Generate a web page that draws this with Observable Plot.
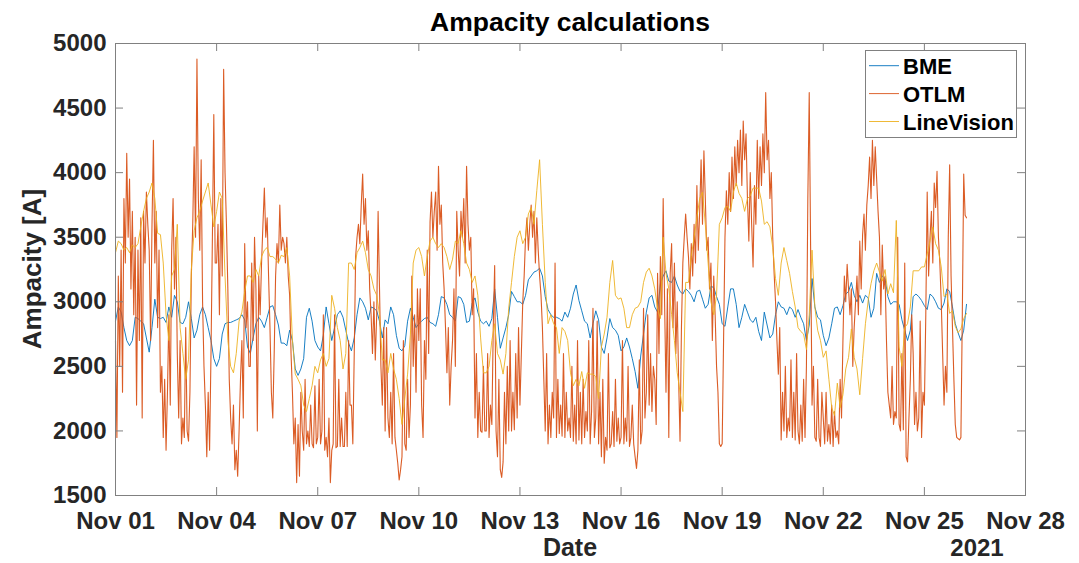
<!DOCTYPE html>
<html><head><meta charset="utf-8">
<script src="https://cdn.jsdelivr.net/npm/d3@7"></script>
<script src="https://cdn.jsdelivr.net/npm/@observablehq/plot@0.6"></script>
<style>
html,body{margin:0;padding:0;background:#fff;}
</style></head><body>
<div id="chart"></div>
<script>
// ---- data ----
const startDate = "2021-11-01T00:00:00Z";
const seriesNames = ["BME", "OTLM", "LineVision"];
const seriesColors = ["#0072BD", "#D95319", "#EDB120"];
const xTickDates = ["2021-11-01","2021-11-04","2021-11-07","2021-11-10","2021-11-13","2021-11-16","2021-11-19","2021-11-22","2021-11-25","2021-11-28"];
const yTicks = [1500, 2000, 2500, 3000, 3500, 4000, 4500, 5000];
const titleText = "Ampacity calculations";
const xLabel = "Date";
const yLabel = "Ampacity [A]";
const yearLabel = "2021";

// BME: one value every 2 hours from Nov 01 00:00
const bmeValues = [
2850,2960,2920,2800,2700,2660,2700,2880,2870,2850,2830,2720,
2610,2800,3020,2880,2870,2880,2840,2960,2880,3050,3000,2840,
2830,2880,3000,2870,2720,2780,2900,2960,2900,2800,2700,2560,
2500,2560,2750,2830,2840,2840,2850,2860,2870,2900,2860,2650,
2600,2720,2830,2880,2850,2800,2880,2960,2970,2900,2820,2680,
2680,2660,2780,2700,2480,2430,2480,2560,2880,2950,2850,2700,
2650,2620,2740,2960,2830,2700,2800,2900,2930,2880,2780,2680,
2620,2720,2900,3030,3000,2950,2860,2960,2950,2930,2850,2720,
2860,2830,2960,2900,2740,2640,2620,2660,2850,2950,2880,2800,
2830,2850,2870,2880,2840,2830,2810,2900,3040,3030,2980,2900,
2880,2850,3040,3030,2980,2840,2850,2990,3030,2920,2850,2830,
2850,2810,2870,3100,2880,2640,2720,2800,2900,3080,3040,3000,
3000,2980,3050,3170,3200,3230,3240,3260,3200,3040,2940,2900,
2880,2880,2870,2850,2920,2880,2950,3060,3130,3010,2930,2850,
2830,2720,2830,2930,2860,2650,2600,2720,2870,2800,2780,2740,
2620,2650,2720,2650,2560,2460,2330,2580,2750,2920,3030,3050,
2960,2920,3140,3200,3240,3160,3150,3200,3130,3080,3060,3100,
3080,3050,3000,3080,3090,3020,2950,2980,3120,3110,3040,2980,
2830,2810,2960,3100,3100,2980,2800,2880,2980,2920,2860,2840,
2880,2770,2700,2920,2820,2720,2750,2900,3000,2960,2950,2900,
2960,2940,2880,2940,2880,2830,2700,2820,3180,2960,2880,2860,
2740,2660,2720,2830,2950,2960,2900,2970,3060,3080,3150,3050,
3000,3050,2990,3050,3030,2880,2950,3220,3150,3200,3180,3040,
2980,3000,3000,2980,2860,2780,2700,2780,3040,3060,3040,3010,
2970,2940,3060,3040,3000,2950,2940,2990,3100,3080,2960,2830,
2760,2700,2780,2980
];

// LineVision: one value every 2 hours from Nov 01 00:00
const lineVisionValues = [
3380,3470,3450,3400,3420,3380,3440,3420,3450,3580,3700,3800,
3850,3920,3800,3530,3520,3300,2900,2700,3200,3250,3600,2800,
2600,2400,2550,3250,3550,3650,3700,3780,3850,3920,3750,3580,
3700,3850,3800,3200,2700,2500,2450,2600,2850,2920,3080,3200,
3200,3150,3250,3200,3350,3400,3420,3350,3350,3330,3300,3360,
3350,3420,3200,2700,2440,2400,2350,2200,2150,2250,2350,2500,
2450,2550,2600,2500,2560,3050,2950,2800,2700,2480,2600,3300,
3300,3250,3380,3420,3470,3380,3250,3200,3100,3050,2900,2550,
2550,2450,2600,2480,2400,2250,2050,2250,2440,2750,3300,3400,
3420,3350,3200,3350,3470,3500,3450,3420,3450,3420,3350,3250,
3330,3470,3450,3550,3450,3300,3250,3150,3200,3050,2720,2450,
2450,2500,2700,2830,2600,2550,2440,2600,2950,3150,3350,3500,
3550,3450,3500,3680,3730,3600,3860,4100,3600,3150,2830,2900,
2830,2800,2600,2800,2770,2700,2450,2350,2400,2350,2460,2330,
2450,2440,2440,2420,2250,2650,2750,2880,3150,3320,3050,3020,
3030,2950,2800,2800,2900,2950,2960,3000,3150,3230,3260,3200,
3100,2950,2870,3500,3220,3100,2900,2700,2450,2300,2150,3150,
3150,3350,3500,3650,3800,3850,3600,3300,3000,2900,3050,3600,
3650,3730,3740,3700,3850,3920,3840,3800,3700,3800,3820,3880,
3880,3880,3780,3600,3620,3580,3420,3180,3050,3300,3420,3320,
3220,3080,2960,2800,2770,2750,2630,2900,3400,2960,2780,2700,
2570,2620,2400,2180,2120,2370,2180,2280,2480,2570,2790,2570,
2480,2280,2560,2830,3010,3140,3240,3300,3230,3160,3250,3060,
3140,3070,3630,2650,2500,2800,2830,2960,3240,3240,3240,3270,
3270,3370,3470,3580,3450,3400,3270,3040,3060,2910,2930,2810,
2760,2790,2870,2910
];

// OTLM: one value every hour from Nov 01 00:00
const otlmValues = [
2700,1950,3200,2500,3400,2300,3800,3300,4150,3500,3950,3100,3700,2900,3500,2200,3400,2700,3650,2100,3700,3300,3850,3600,
3400,2700,3600,4250,3300,3700,2800,3400,2300,2500,1950,2400,1850,2300,2900,2200,3400,3800,3100,3500,2600,2100,2700,1900,
2100,1950,2800,2000,1920,2300,3200,3600,4200,3500,4880,3800,3400,4100,3000,2500,2200,1800,2300,1850,2600,3500,4450,3300,
3300,3600,2900,3800,3200,4800,4000,3600,3100,2400,2100,1900,2200,1700,1850,1650,2000,2400,2700,2100,3450,2800,3000,2500,
2500,3300,2700,3500,3100,2000,3200,2900,3300,3600,3880,3500,3650,3200,2800,2300,2100,2600,3200,3450,3300,3750,3400,3500,
3450,3300,3500,3200,3050,2600,2300,1900,2100,1600,2050,1650,2300,2000,1850,2400,1900,2000,1880,2200,1900,1870,2350,1900,
1950,2400,1900,2000,2900,1850,1950,1800,2100,1600,1850,1900,2900,1870,1880,2400,1880,2100,1880,1880,2300,1880,2700,2200,
2200,1900,2600,3350,3500,3600,3450,3750,3990,3600,3800,3400,3550,3100,2900,2600,3000,2550,2900,3700,3100,2500,2200,2800,
2000,2800,2100,1950,2300,1900,2600,1950,1850,1750,1620,1700,1800,2700,1900,1850,2400,1950,2200,3200,2500,2900,2300,3100,
2700,3100,2200,1950,2700,2400,3400,2600,3620,3850,3500,3700,3850,3400,4050,3600,3750,3300,3100,2800,2450,2800,2200,2500,
2700,3100,2500,3700,3400,3200,3700,3500,3800,3300,4050,3600,3400,3500,2900,3100,2100,2600,1950,2300,2000,1990,2500,2000,
2000,2600,1950,2200,2050,2800,3280,2000,1800,2400,1700,1640,1760,2300,1900,2500,2000,2700,2000,2300,2010,2600,2100,2800,
2200,2600,3000,3200,3500,3650,3400,3600,3750,3500,3700,3300,3650,3400,3200,3050,2800,2400,2000,2600,1900,2200,1950,2300,
2100,3300,1950,2400,1980,2200,1960,2600,1950,2300,2000,2100,1950,2500,1920,2200,1900,2700,1930,2300,1900,2400,1950,2150,
2000,2700,1900,2150,2950,1950,2100,2850,1900,2300,1800,2400,1750,1950,1850,2600,1870,1900,2150,1880,2400,1920,2100,1900,
1950,2700,1900,2100,1920,2500,1880,1950,2200,1900,1800,1710,1850,2550,1900,2000,2950,2100,2300,2900,2200,2600,2150,2500,
2400,2050,3220,2600,3350,2900,3800,3000,2300,3100,1950,3220,3450,2800,3300,2600,3000,2400,1920,2800,3300,3500,3680,3500,
3350,3100,3450,3200,3600,3300,3900,3400,3700,4100,3600,4170,3800,3400,3500,3100,3300,2700,3200,2900,2500,2300,1900,1880,
1900,2700,3500,3860,3600,4000,3700,4120,3800,4200,3900,4250,4000,4330,3900,4400,4100,4300,3800,3470,4000,3600,3270,3900,
3600,4250,3800,4200,3900,4300,4000,4620,4100,4250,3800,4000,3500,3220,3000,2700,2440,2800,1930,2300,2000,2500,1950,2100,
2000,2550,1950,2300,1930,2600,2000,1900,2200,1920,2400,1950,2500,3800,4620,3400,2200,2500,1950,1920,2400,1950,1880,2300,
2100,1900,2300,1920,2050,1900,2200,1880,2150,1950,2000,1900,2400,2100,2700,3200,3000,3290,3100,2900,3100,2500,2800,3000,
3200,2900,3470,3100,3520,3680,3400,3750,3900,4120,3800,4250,3900,4200,3950,3700,3500,2900,3440,3100,3200,2700,2300,2200,
2100,2500,2050,2150,2100,3500,2050,2000,2600,2010,3300,1800,1760,2100,2400,2900,2600,2050,2300,2000,2100,2850,1950,2300,
2200,2900,3850,3200,3500,3700,3300,3920,3730,4010,3500,3300,3000,2600,2200,2500,2300,3500,4060,3200,2800,2400,2050,1950,
1940,1930,1950,2900,3990,3670,3650
];

// ---- build tables ----
const t0 = new Date(startDate).getTime();
const HOUR = 3600e3;
const toRows = (vals, stepH) => vals.map((v, i) => ({date: new Date(t0 + i * stepH * HOUR), value: v}));
const bme = toRows(bmeValues, 2);
const lv = toRows(lineVisionValues, 2);
const otlm = toRows(otlmValues, 1);
const xTicks = xTickDates.map(s => new Date(s + "T00:00:00Z"));

const FONT = "'Liberation Sans', Arial, Helvetica, sans-serif";
const frameColor = "#808080";
const textColor = "#262626";

const plot = Plot.plot({
  width: 1079,
  height: 563,
  marginLeft: 115,
  marginRight: 54,
  marginTop: 43,
  marginBottom: 68,
  style: {fontFamily: FONT, fontWeight: "bold", color: textColor, background: "#fff", overflow: "visible"},
  x: {type: "utc", domain: [xTicks[0], xTicks[xTicks.length - 1]]},
  y: {domain: [yTicks[0], yTicks[yTicks.length - 1]]},
  marks: [
    Plot.line(bme, {x: "date", y: "value", stroke: seriesColors[0], strokeWidth: 0.9}),
    Plot.line(otlm, {x: "date", y: "value", stroke: seriesColors[1], strokeWidth: 1.1, strokeOpacity: 0.95}),
    Plot.line(lv, {x: "date", y: "value", stroke: seriesColors[2], strokeWidth: 0.9}),
    Plot.frame({stroke: frameColor, strokeWidth: 1}),
    Plot.ruleX(xTicks, {insetTop: 444, stroke: frameColor}),
    Plot.ruleX(xTicks, {insetBottom: 444, stroke: frameColor}),
    Plot.ruleY(yTicks, {insetRight: 902, stroke: frameColor}),
    Plot.ruleY(yTicks, {insetLeft: 902, stroke: frameColor}),
    Plot.axisX({ticks: xTicks, tickFormat: d3.utcFormat("Nov %d"), tickSize: 0, tickPadding: 16, fontSize: 24, label: null}),
    Plot.axisY({ticks: yTicks, tickFormat: d => String(d), tickSize: 0, tickPadding: 9, fontSize: 24, label: null})
  ]
});

document.getElementById("chart").appendChild(plot);

// ---- titles, labels, legend ----
const svg = d3.select(plot);
const addText = (txt, x, y, size, fill, anchor, transform) => {
  const t = svg.append("text")
    .attr("x", x).attr("y", y)
    .attr("font-family", FONT).attr("font-weight", "bold")
    .attr("font-size", size).attr("fill", fill)
    .attr("text-anchor", anchor || "middle")
    .text(txt);
  if (transform) t.attr("transform", transform);
  return t;
};
addText(titleText, 570, 31, 26.5, "#000");
addText(xLabel, 570, 556, 25, textColor);
addText(yearLabel, 977, 556, 24, textColor);
addText(yLabel, 0, 0, 26, textColor, "middle", "translate(41,269) rotate(-90)");

const lg = svg.append("g");
lg.append("rect").attr("x", 865.5).attr("y", 50.5).attr("width", 151).attr("height", 87)
  .attr("fill", "#fff").attr("stroke", frameColor).attr("stroke-width", 1);
seriesNames.forEach((name, i) => {
  const y = 65.7 + i * 27.9;
  lg.append("line").attr("x1", 869).attr("x2", 899).attr("y1", y).attr("y2", y)
    .attr("stroke", seriesColors[i]).attr("stroke-width", 0.9);
  lg.append("text").attr("x", 903).attr("y", y + 8.5)
    .attr("text-anchor", "start")
    .attr("font-family", FONT).attr("font-weight", "bold").attr("font-size", 22)
    .attr("fill", "#000").text(name);
});
</script>
</body></html>
